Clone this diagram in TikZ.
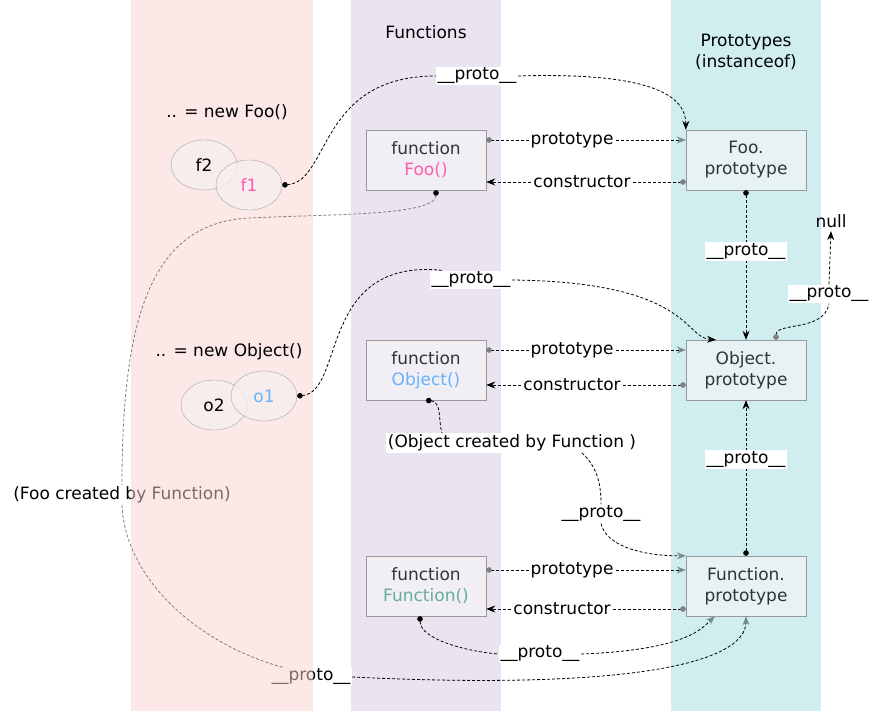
\documentclass[tikz,border=0pt]{standalone}
\usepackage{fontspec}
\setmainfont{DejaVu Sans}
\usetikzlibrary{arrows.meta,shapes.geometric}
\definecolor{pinkband}{RGB}{249,209,205}
\definecolor{purpleband}{RGB}{234,228,240}
\definecolor{cyanband}{RGB}{208,237,240}
\definecolor{funfill}{RGB}{241,238,244}
\definecolor{protofill}{RGB}{230,242,244}
\definecolor{objfill}{RGB}{246,240,239}
\definecolor{foopink}{RGB}{255,92,176}
\definecolor{objblue}{RGB}{102,178,255}
\definecolor{funteal}{RGB}{103,171,159}
\definecolor{tipgray}{RGB}{120,140,145}
\tikzstyle{fbox}=[draw=gray!80, fill=funfill, minimum width=120pt, minimum height=60pt, align=center, text=black!80, inner sep=2pt]
\tikzstyle{pbox}=[fbox, fill=protofill]
\tikzstyle{obj}=[draw=gray!70, ellipse, fill=objfill, fill opacity=.7, text opacity=1, minimum width=66pt, minimum height=50pt, inner sep=0pt]
\tikzstyle{lbl}=[fill=white, inner sep=1.5pt]
\tikzstyle{link}=[draw, line width=.8pt, dash pattern=on 3pt off 2pt]

\begin{document}
\begin{tikzpicture}[x=1pt, y=-1pt, font=\fontsize{17}{21}\selectfont]
    \tikzstyle{dk2dk}=[{Circle[length=5.5pt,color=black]}-{Stealth[length=9pt,width=7pt,color=black]}]
    \tikzstyle{gy2gy}=[{Circle[length=5.5pt,color=gray]}-{Stealth[length=9pt,width=7pt,color=tipgray]}]
    \tikzstyle{gy2dk}=[{Circle[length=5.5pt,color=gray]}-{Stealth[length=9pt,width=7pt,color=black]}]
    \tikzstyle{dotstart}=[{Circle[length=5.5pt,color=black]}-]
    \tikzstyle{blktip}=[-{Stealth[length=9pt,width=7pt,color=black]}]
    \tikzstyle{grytip}=[-{Stealth[length=9pt,width=7pt,color=tipgray]}]

  \useasboundingbox (0,0) rectangle (879,711);
  % columns
  \foreach \x/\col in {351/purpleband, 671/cyanband}
      \fill[\col] (\x,0) rectangle ++(150,711);
  % these two sit under the pink column
  \node[lbl] (fooby) at (122,495) {(Foo created by Function)};
  \node[lbl] (protoF) at (311,677) {\_\_proto\_\_};
  \fill[pinkband, fill opacity=.5] (131,0) rectangle (313,711);

  \node (functions) at (426,32) {Functions};
  \node[align=center] (prototypes) at (746,52) {Prototypes\\(instanceof)};

  \foreach \name/\y/\txt/\col in {FooF/160/Foo()/foopink, ObjF/370/Object()/objblue,
                                  FunF/586/Function()/funteal}
        \node[fbox] (\name) at (426,\y) {function\\\textcolor{\col}{\txt}};
  \foreach \name/\y/\txt in {FooP/160/Foo., ObjP/370/Object., FunP/586/Function.}
        \node[pbox] (\name) at (746,\y) {\txt\\prototype};

  \node (newfoo) at (227,112) {.. = new Foo()};
  \node[obj] (f2) at (204,165) {f2};
  \node[obj, text=foopink] (f1) at (249,185) {f1};
  \node (newobj) at (229,352) {.. = new Object()};
  \node[obj] (o2) at (214,405) {o2};
  \node[obj, text=objblue] (o1) at (264,396) {o1};

  \node[lbl] (protoA) at (477,76) {\_\_proto\_\_};
  \node[lbl] (protoB) at (471,280) {\_\_proto\_\_};
  \node[lbl] (protoD) at (829,294) {\_\_proto\_\_};
  \node (null) at (831,221) {null};
  \node[lbl] (objby) at (512,443) {(Object created by Function )};
  \node[lbl] (protoE) at (601,514) {\_\_proto\_\_};
  \node[lbl] (protoH) at (540,654) {\_\_proto\_\_};

  % instances
  \draw[link, dotstart] (f1.east) .. controls (330,182) and (318,76) .. (protoA.west);
  \draw[link, blktip] (protoA.east) .. controls (650,72) and (686,95) .. (FooP.north west);
  \draw[link, dotstart] (o1.east) .. controls (345,392) and (318,258) .. ([xshift=12pt]protoB.north west);
  \draw[link, blktip] (protoB.east) .. controls (690,282) and (684,338) .. ([xshift=-30pt]ObjP.north);

  % prototype / constructor
  \foreach \f/\p/\a/\b/\c in {FooF/FooP/20/-22/.52, ObjF/ObjP/20/-15/.57, FunF/FunP/16/-23/.62} {
      \draw[link, gy2gy] ([yshift=\a pt]\f.east) -- node[lbl, pos=.43] {prototype} ([yshift=\a pt]\p.west);
      \draw[link, gy2dk] ([yshift=\b pt]\p.west) -- node[lbl, pos=\c] {constructor} ([yshift=\b pt]\f.east);
  }

  % proto chain
  \draw[link, dk2dk] (FooP.south) -- node[lbl, pos=.41] {\_\_proto\_\_} (ObjP.north);
  \draw[link, dk2dk] (FunP.north) -- node[lbl, pos=.62] {\_\_proto\_\_} (ObjP.south);
  \draw[link, {Circle[length=5.5pt,color=gray]}-] ([xshift=30pt]ObjP.north) .. controls (776,322) and (824,332) .. (protoD.south);
  \draw[link, blktip] (protoD.north) -- (null.south);

  % created by Function
  \draw[link, dotstart] (ObjF.south) .. controls (442,402) and (438,420) .. ([xshift=-70pt]objby.north);
  \draw[link] ([xshift=70pt]objby.south) .. controls (598,468) and (601,485) .. (protoE.north);
  \draw[link, grytip] (protoE.south) .. controls (606,545) and (640,556) .. (FunP.north west);
  \draw[link, dotstart] ([xshift=-6pt]FunF.south) .. controls (420,640) and (470,652) .. (protoH.west);
  \draw[link, grytip] (protoH.east) .. controls (690,650) and (704,626) .. ([xshift=-31pt]FunP.south);
  \draw[link, gray, dotstart] ([xshift=10pt]FooF.south) .. controls (436,216) and (330,214) .. (250,218)
        .. controls (150,222) and (122,320) .. (fooby.north);
  \draw[link, gray] (fooby.south) .. controls (125,580) and (200,645) .. ([xshift=-28pt]protoF.north);
  \draw[link, grytip] (protoF.east) .. controls (620,690) and (746,665) .. (FunP.south);

\end{tikzpicture}
\end{document}
